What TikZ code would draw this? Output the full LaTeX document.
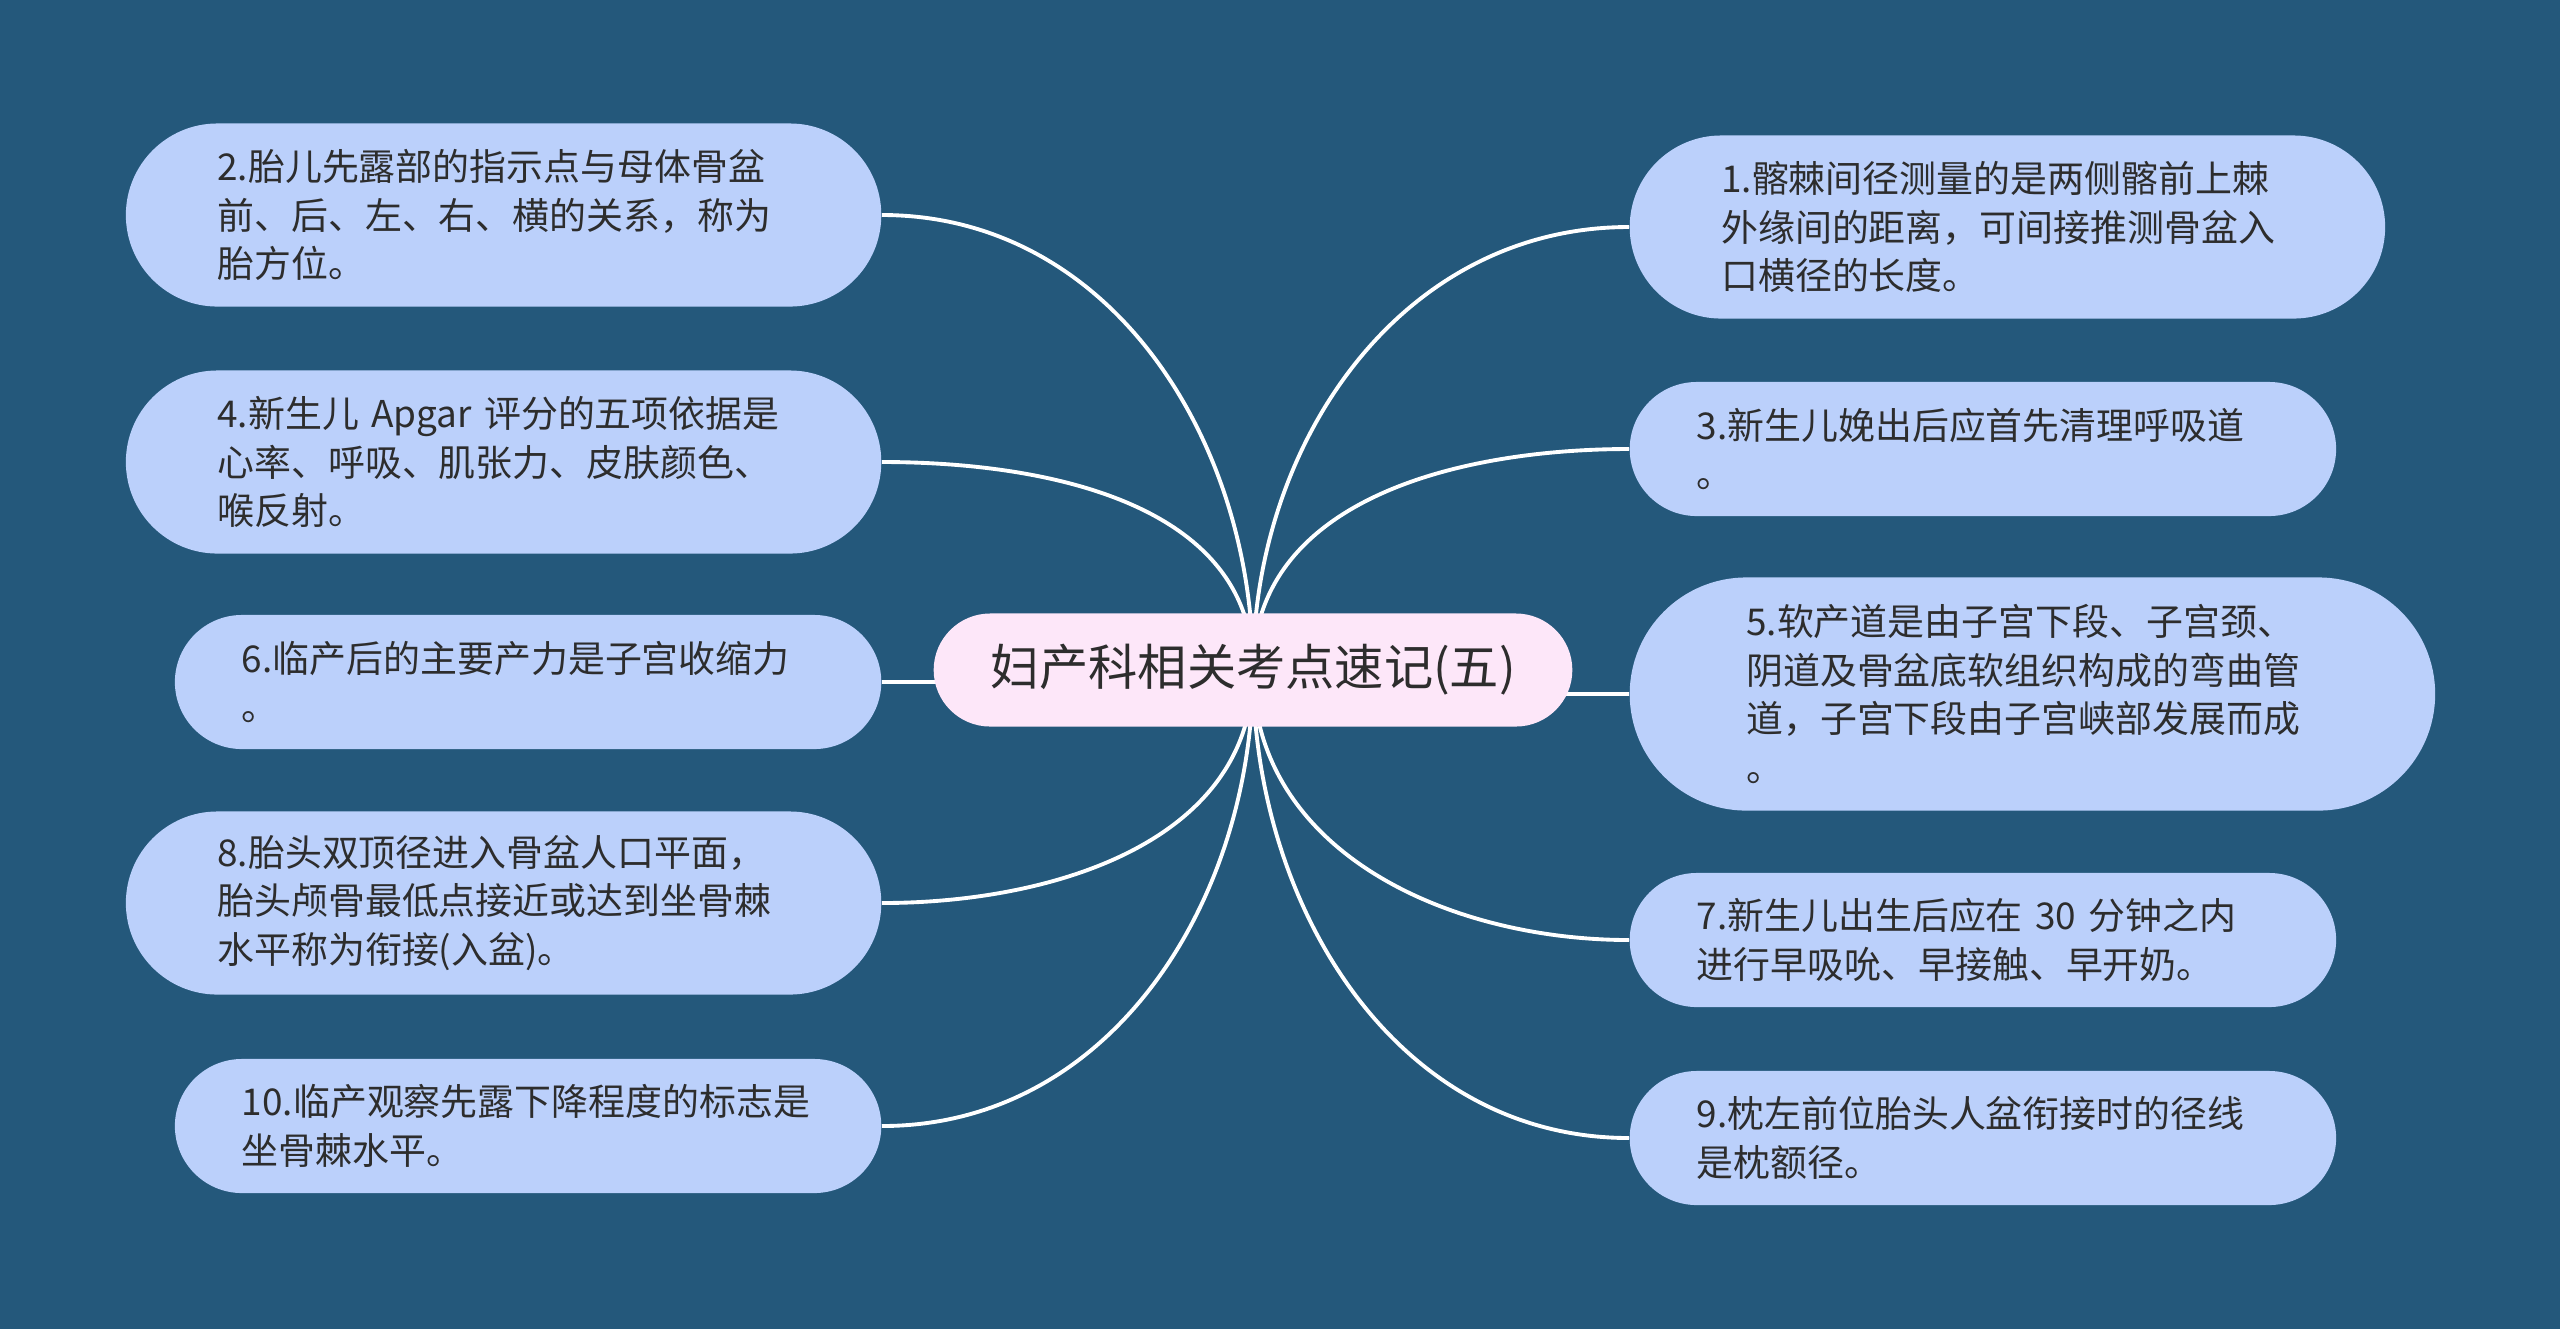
\documentclass[tikz,border=0pt]{standalone}
\usepackage{fontspec}
\setmainfont{Noto Sans CJK SC}
\pgfdeclarelayer{bg}
\pgfsetlayers{bg,main}
\definecolor{bgblue}{RGB}{36,88,123}
\definecolor{leafblue}{RGB}{187,208,251}
\definecolor{rootpink}{RGB}{253,231,249}
\definecolor{inkgray}{RGB}{45,45,45}

\begin{document}
\begin{tikzpicture}[x=0.01cm,y=-0.01cm,
  leaf/.style={rectangle,fill=leafblue,text=inkgray,text width=5.72cm,align=left,
    inner ysep=0pt,font=\fontsize{10.5pt}{13.9pt}\selectfont},
  two/.style={leaf,minimum height=1.34cm,inner xsep=0.67cm,rounded corners=0.67cm},
  three/.style={leaf,minimum height=1.83cm,inner xsep=0.915cm,rounded corners=0.915cm},
  four/.style={leaf,minimum height=2.33cm,inner xsep=1.165cm,rounded corners=1.165cm},
  root/.style={rectangle,fill=rootpink,text=inkgray,inner xsep=0.565cm,inner ysep=0pt,
    minimum height=1.13cm,rounded corners=0.565cm,font=\fontsize{14pt}{17pt}\selectfont},
  link/.style={draw=white,line width=1.1pt}]
  \begin{pgfonlayer}{bg}
    \fill[bgblue] (0,0) rectangle (2560,1329);
  \end{pgfonlayer}
  \node[root] (r) at (1253,670) {妇产科相关考点速记(五)};
  \node[three,anchor=east] (n2) at (882,215) {2.胎儿先露部的指示点与母体骨盆\\前、后、左、右、横的关系，称为\\胎方位。};
  \node[three,anchor=east] (n4) at (882,462) {4.新生儿 Apgar 评分的五项依据是\\心率、呼吸、肌张力、皮肤颜色、\\喉反射。};
  \node[two,anchor=east] (n6) at (882,682) {6.临产后的主要产力是子宫收缩力\\。};
  \node[three,anchor=east] (n8) at (882,903) {8.胎头双顶径进入骨盆人口平面，\\胎头颅骨最低点接近或达到坐骨棘\\水平称为衔接(入盆)。};
  \node[two,anchor=east] (n10) at (882,1126) {10.临产观察先露下降程度的标志是\\坐骨棘水平。};
  \node[three,anchor=west] (n1) at (1629,227) {1.髂棘间径测量的是两侧髂前上棘\\外缘间的距离，可间接推测骨盆入\\口横径的长度。};
  \node[two,anchor=west] (n3) at (1629,449) {3.新生儿娩出后应首先清理呼吸道\\。};
  \node[four,anchor=west] (n5) at (1629,694) {5.软产道是由子宫下段、子宫颈、\\阴道及骨盆底软组织构成的弯曲管\\道，子宫下段由子宫峡部发展而成\\。};
  \node[two,anchor=west] (n7) at (1629,940) {7.新生儿出生后应在 30 分钟之内\\进行早吸吮、早接触、早开奶。};
  \node[two,anchor=west] (n9) at (1629,1138) {9.枕左前位胎头人盆衔接时的径线\\是枕额径。};
  \begin{pgfonlayer}{bg}
    \draw[link] (r.center) to[out=90,in=0] (n2.east);
    \draw[link] (r.center) to[out=90,in=0] (n4.east);
    \draw[link] (n6.east) -- (n6.east -| r.center);
    \draw[link] (r.center) to[out=-90,in=0] (n8.east);
    \draw[link] (r.center) to[out=-90,in=0] (n10.east);
    \draw[link] (r.center) to[out=90,in=180] (n1.west);
    \draw[link] (r.center) to[out=90,in=180] (n3.west);
    \draw[link] (n5.west) -- (n5.west -| r.center);
    \draw[link] (r.center) to[out=-90,in=180] (n7.west);
    \draw[link] (r.center) to[out=-90,in=180] (n9.west);
  \end{pgfonlayer}
\end{tikzpicture}
\end{document}
